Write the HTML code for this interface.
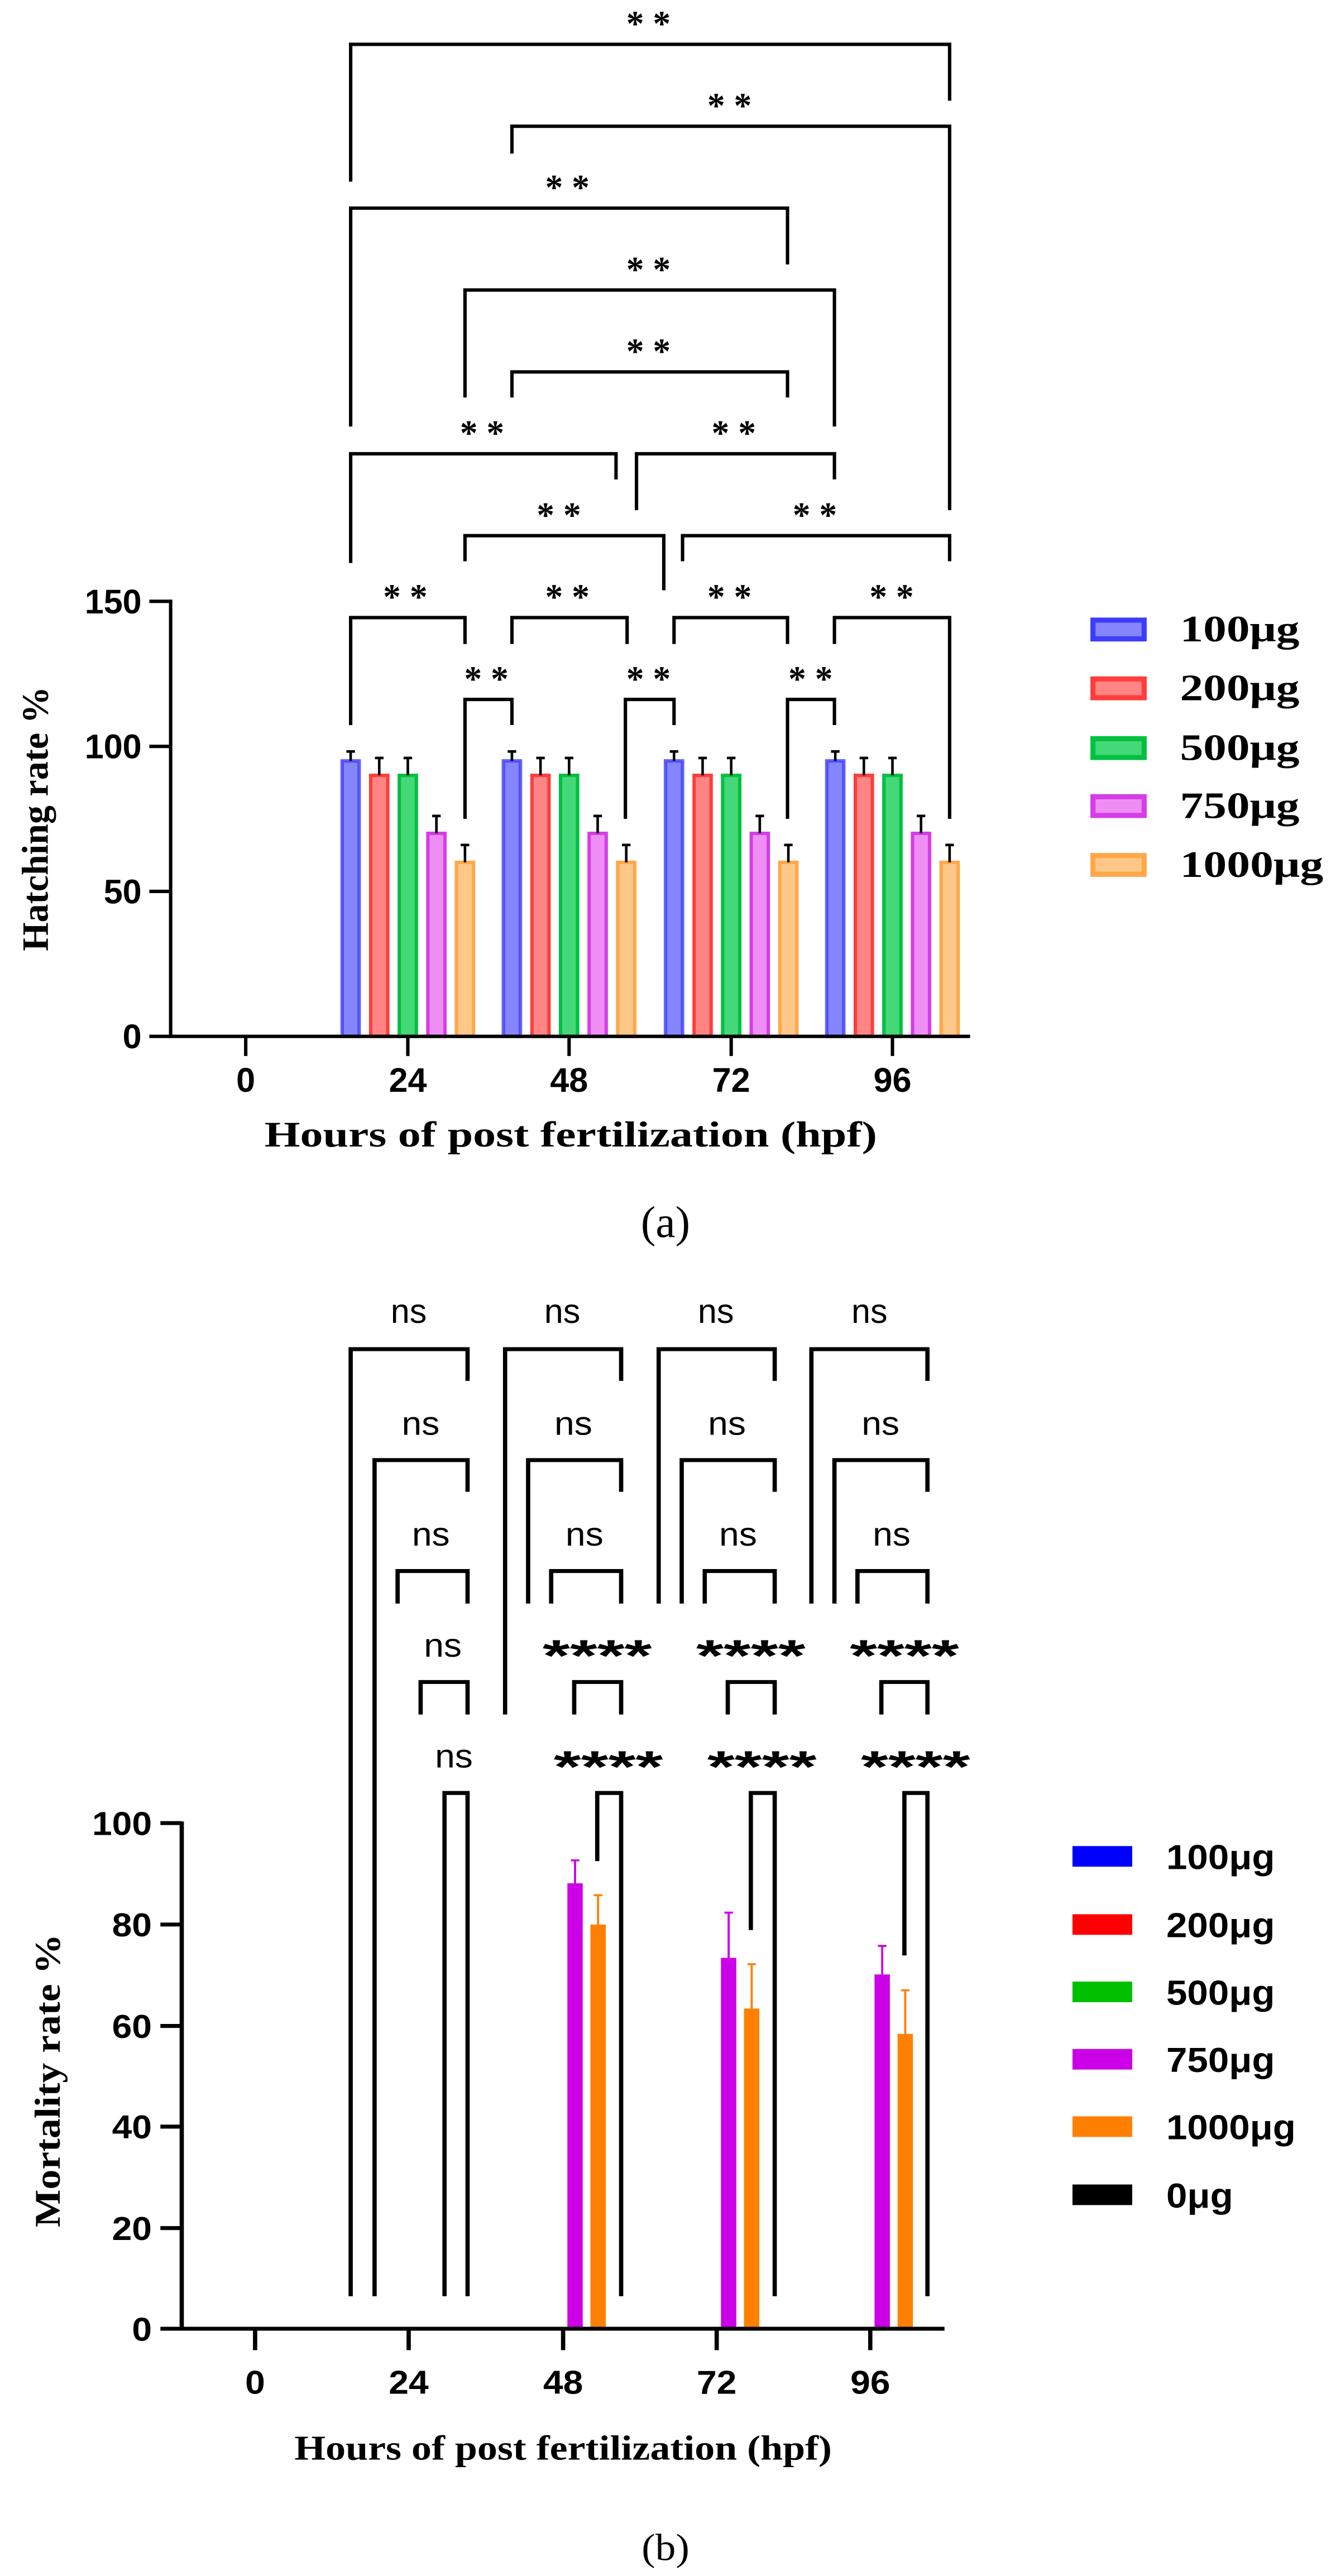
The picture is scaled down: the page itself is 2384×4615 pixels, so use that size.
<!DOCTYPE html>
<html><head><meta charset="utf-8"><style>
html,body{margin:0;padding:0;background:#fff;}
svg{display:block;}
.s{font-family:"Liberation Sans",sans-serif;font-weight:bold;}
.r{font-family:"Liberation Serif",serif;font-weight:bold;}
</style></head><body>
<svg width="2384" height="2400" viewBox="0 0 1560 1570.5" preserveAspectRatio="none" xmlns="http://www.w3.org/2000/svg">
<defs>
<g id="grp">
 <rect x="-77" y="892" width="20" height="323" fill="#8585ff" stroke="#3d3dff" stroke-width="4" stroke-opacity="0.8"/>
 <rect x="-43.5" y="909" width="20" height="306" fill="#ff8585" stroke="#ff3d3d" stroke-width="4"/>
 <rect x="-10" y="909" width="20" height="306" fill="#45d878" stroke="#00c040" stroke-width="4"/>
 <rect x="23.5" y="977" width="20" height="238" fill="#ee8ef5" stroke="#d53de6" stroke-width="4"/>
 <rect x="57" y="1011" width="20" height="204" fill="#ffc888" stroke="#ffa848" stroke-width="4"/>
 <g stroke="#000" stroke-width="3" fill="none">
  <path d="M-67 892V881M-72 881H-62"/>
  <path d="M-33.5 909V888.6M-38.5 888.6H-28.5"/>
  <path d="M0 909V888.6M-5 888.6H5"/>
  <path d="M33.5 977V956.6M28.5 956.6H38.5"/>
  <path d="M67 1011V990.6M62 990.6H72"/>
 </g>
</g>
</defs>
<use href="#grp" x="478"/><use href="#grp" x="667"/><use href="#grp" x="857"/><use href="#grp" x="1046"/>
<g stroke="#000" stroke-width="4" fill="none">
 <path d="M200 703V1215H1137"/>
 <path d="M175 705H200M175 875H200M175 1045H200M175 1215H200"/>
 <path d="M288 1215V1238M478 1215V1238M667 1215V1238M857 1215V1238M1046 1215V1238"/>
 <path d="M411 213V52H1113V118"/>
 <path d="M600 180V148H1113V598"/>
 <path d="M411 500V244H923V310"/>
 <path d="M545 466V340H978V500"/>
 <path d="M600 466V436H923V466"/>
 <path d="M411 660V532H722V562"/>
 <path d="M746 598V532H978V562"/>
 <path d="M545 658V628H778V692"/>
 <path d="M800 658V628H1113V658"/>
 <path d="M411 850V724H545V755"/>
 <path d="M600 755V724H735V755"/>
 <path d="M790 755V724H923V755"/>
 <path d="M978 755V724H1113V960"/>
 <path d="M545 960V820H600V850"/>
 <path d="M733 960V820H790V850"/>
 <path d="M923 960V820H978V850"/>
</g>
<g class="r" font-size="42" text-anchor="middle">
 <text x="760" y="42" textLength="52" lengthAdjust="spacingAndGlyphs">* *</text><text x="855" y="138" textLength="52" lengthAdjust="spacingAndGlyphs">* *</text><text x="665" y="234" textLength="52" lengthAdjust="spacingAndGlyphs">* *</text>
 <text x="760" y="330" textLength="52" lengthAdjust="spacingAndGlyphs">* *</text><text x="760" y="426" textLength="52" lengthAdjust="spacingAndGlyphs">* *</text><text x="565" y="522" textLength="52" lengthAdjust="spacingAndGlyphs">* *</text>
 <text x="860" y="522" textLength="52" lengthAdjust="spacingAndGlyphs">* *</text><text x="655" y="618" textLength="52" lengthAdjust="spacingAndGlyphs">* *</text><text x="955" y="618" textLength="52" lengthAdjust="spacingAndGlyphs">* *</text>
 <text x="475" y="714" textLength="52" lengthAdjust="spacingAndGlyphs">* *</text><text x="665" y="714" textLength="52" lengthAdjust="spacingAndGlyphs">* *</text><text x="855" y="714" textLength="52" lengthAdjust="spacingAndGlyphs">* *</text>
 <text x="1045" y="714" textLength="52" lengthAdjust="spacingAndGlyphs">* *</text><text x="570" y="810" textLength="52" lengthAdjust="spacingAndGlyphs">* *</text><text x="760" y="810" textLength="52" lengthAdjust="spacingAndGlyphs">* *</text>
 <text x="950" y="810" textLength="52" lengthAdjust="spacingAndGlyphs">* *</text>
</g>
<g class="s" font-size="40" text-anchor="end">
 <text x="166" y="719">150</text><text x="166" y="889">100</text><text x="166" y="1059">50</text><text x="166" y="1229">0</text>
</g>
<g class="s" font-size="40" text-anchor="middle">
 <text x="288" y="1280">0</text><text x="478" y="1280">24</text><text x="667" y="1280">48</text><text x="857" y="1280">72</text><text x="1046" y="1280">96</text>
</g>
<text class="r" font-size="42" x="310" y="1344" textLength="718" lengthAdjust="spacingAndGlyphs">Hours of post fertilization (hpf)</text>
<text class="r" font-size="44" transform="translate(56,960) rotate(-90)" text-anchor="middle" textLength="310" lengthAdjust="spacingAndGlyphs">Hatching rate %</text>
<text font-family="Liberation Serif,serif" font-size="52" x="780" y="1450" text-anchor="middle">(a)</text>
<g>
 <rect x="1281" y="727" width="60" height="22" fill="#8585ff" stroke="#3d3dff" stroke-width="6"/>
 <rect x="1281" y="796" width="60" height="22" fill="#ff8585" stroke="#ff3d3d" stroke-width="6"/>
 <rect x="1281" y="866" width="60" height="22" fill="#45d878" stroke="#00c040" stroke-width="6"/>
 <rect x="1281" y="934" width="60" height="22" fill="#ee8ef5" stroke="#d53de6" stroke-width="6"/>
 <rect x="1281" y="1003" width="60" height="22" fill="#ffc888" stroke="#ffa848" stroke-width="6"/>
</g>
<g class="r" font-size="44">
 <text x="1383" y="752" textLength="140" lengthAdjust="spacingAndGlyphs">100μg</text>
 <text x="1383" y="821" textLength="140" lengthAdjust="spacingAndGlyphs">200μg</text>
 <text x="1383" y="891" textLength="140" lengthAdjust="spacingAndGlyphs">500μg</text>
 <text x="1383" y="959" textLength="140" lengthAdjust="spacingAndGlyphs">750μg</text>
 <text x="1383" y="1028" textLength="168" lengthAdjust="spacingAndGlyphs">1000μg</text>
</g>
<g font-family="Liberation Sans,sans-serif" font-size="40" text-anchor="middle">
 <text x="479" y="1551">ns</text><text x="659" y="1551">ns</text><text x="839" y="1551">ns</text><text x="1019" y="1551">ns</text>
</g>
</svg>
<svg width="2384" height="2215" viewBox="0 0 1560 1560" preserveAspectRatio="none" xmlns="http://www.w3.org/2000/svg">
<g fill="#cc00e6"><rect x="665" y="686" width="18" height="562"/><rect x="845" y="780" width="18" height="468"/><rect x="1025" y="801" width="18" height="447"/></g>
<g fill="#ff8000"><rect x="692" y="738" width="18" height="510"/><rect x="872" y="844" width="18" height="404"/><rect x="1052" y="876" width="18" height="372"/></g>
<g stroke-width="2.5" fill="none">
 <path stroke="#cc00e6" d="M674 686V657M669 657H679M854 780V723M849 723H859M1034 801V765M1029 765H1039"/>
 <path stroke="#ff8000" d="M701 738V701M696 701H706M881 844V788M876 788H886M1061 876V821M1056 821H1066"/>
</g>
<g stroke="#000" stroke-width="5" fill="none">
 <path d="M213 608V1248H1107"/>
 <path d="M188 610H213M188 738H213M188 866H213M188 993H213M188 1121H213M188 1248H213"/>
 <path d="M299 1248V1275M479 1248V1275M660 1248V1275M840 1248V1275M1020 1248V1275"/>
 <path d="M411 1207V12H548V52"/>
 <path d="M439 1207V152H548V192"/>
 <path d="M466 333V292H548V333"/>
 <path d="M493 473V432H548V473"/>
 <path d="M521 1207V572H548V1207"/>
 <path d="M592 473V12H728V52"/>
 <path d="M619 333V152H728V192"/>
 <path d="M646 333V292H728V333"/>
 <path d="M673 473V432H728V473"/>
 <path d="M700 658V572H728V1207"/>
 <path d="M772 333V12H908V52"/>
 <path d="M799 333V152H908V192"/>
 <path d="M826 333V292H908V333"/>
 <path d="M853 473V432H908V473"/>
 <path d="M880 745V572H908V1207"/>
 <path d="M951 333V12H1087V52"/>
 <path d="M978 333V152H1087V192"/>
 <path d="M1005 333V292H1087V333"/>
 <path d="M1033 473V432H1087V473"/>
 <path d="M1060 777V572H1087V1207"/>
</g>
<g font-family="Liberation Sans,sans-serif" font-size="42" text-anchor="middle">
 <text x="493" y="120">ns</text><text x="505" y="260">ns</text><text x="519" y="400">ns</text><text x="532" y="540">ns</text>
 <text x="672" y="120">ns</text><text x="685" y="260">ns</text>
 <text x="852" y="120">ns</text><text x="865" y="260">ns</text>
 <text x="1032" y="120">ns</text><text x="1045" y="260">ns</text>
</g>
<g class="s" font-size="56" text-anchor="middle">
 <text x="700" y="418" textLength="128" lengthAdjust="spacingAndGlyphs">****</text><text x="880" y="418" textLength="128" lengthAdjust="spacingAndGlyphs">****</text><text x="1060" y="418" textLength="128" lengthAdjust="spacingAndGlyphs">****</text>
 <text x="713" y="558" textLength="128" lengthAdjust="spacingAndGlyphs">****</text><text x="893" y="558" textLength="128" lengthAdjust="spacingAndGlyphs">****</text><text x="1073" y="558" textLength="128" lengthAdjust="spacingAndGlyphs">****</text>
</g>
<g class="s" font-size="42" text-anchor="end">
 <text x="178" y="625">100</text><text x="178" y="753">80</text><text x="178" y="881">60</text><text x="178" y="1008">40</text><text x="178" y="1136">20</text><text x="178" y="1263">0</text>
</g>
<g class="s" font-size="42" text-anchor="middle">
 <text x="299" y="1330">0</text><text x="479" y="1330">24</text><text x="660" y="1330">48</text><text x="840" y="1330">72</text><text x="1020" y="1330">96</text>
</g>
<text class="r" font-size="44" x="345" y="1413" textLength="630" lengthAdjust="spacingAndGlyphs">Hours of post fertilization (hpf)</text>
<text class="r" font-size="42" transform="translate(70,935) rotate(-90)" text-anchor="middle" textLength="370" lengthAdjust="spacingAndGlyphs">Mortality rate %</text>
<text font-family="Liberation Serif,serif" font-size="48" x="780" y="1540" text-anchor="middle">(b)</text>
<rect x="1257" y="639" width="70" height="26" fill="#0000ff"/>
<rect x="1257" y="725" width="70" height="26" fill="#ff0000"/>
<rect x="1257" y="810" width="70" height="26" fill="#00c000"/>
<rect x="1257" y="895" width="70" height="26" fill="#cc00e6"/>
<rect x="1257" y="980" width="70" height="26" fill="#ff8000"/>
<rect x="1257" y="1066" width="70" height="26" fill="#000"/>
<g class="s" font-size="44">
 <text x="1367" y="668">100μg</text><text x="1367" y="754">200μg</text><text x="1367" y="839">500μg</text>
 <text x="1367" y="924">750μg</text><text x="1367" y="1009">1000μg</text><text x="1367" y="1095">0μg</text>
</g>
</svg>
</body></html>
